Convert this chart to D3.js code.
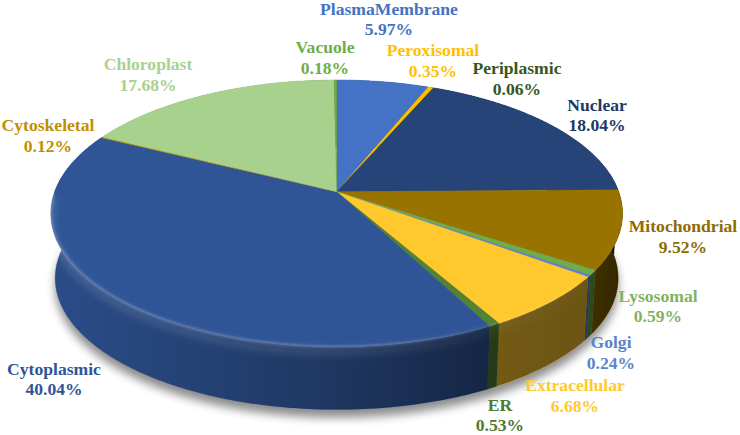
<!DOCTYPE html>
<html>
<head>
<meta charset="utf-8">
<script src="https://cdn.jsdelivr.net/npm/d3@7"></script>
<style>
  html, body { margin: 0; padding: 0; background: #fff; }
  svg { display: block; }
  text { font-family: "Liberation Serif", serif; font-weight: bold; font-size: 17.6px; text-anchor: middle; }
</style>
</head>
<body>
<div id="pie_chart"></div>
<script>
// values, clockwise from 12 o'clock
let categories = ["PlasmaMembrane", "Peroxisomal", "Periplasmic", "Nuclear", "Mitochondrial", "Lysosomal",
  "Golgi", "Extracellular", "ER", "Cytoplasmic", "Cytoskeletal", "Chloroplast", "Vacuole"];
let percents = [5.97, 0.35, 0.06, 18.04, 9.52, 0.59, 0.24, 6.68, 0.53, 40.04, 0.12, 17.68, 0.18];
let sliceColors = ["#4472c4", "#ffc000", "#375623", "#264478", "#997300", "#70ad47",
  "#5b84c8", "#ffc92e", "#548235", "#2f5597", "#bf8f00", "#a9d18e", "#70ad47"];
let labelColors = ["#4472c4", "#ffc000", "#375623", "#203864", "#8f6c00", "#7fb35f",
  "#5b84c8", "#ffc92e", "#4f7a32", "#2f5597", "#bf8f00", "#a9d18e", "#70ad47"];

// label centre x and the two baselines, same order as categories
let labelX = [389, 433, 517, 597, 683, 658, 611, 575, 500, 54, 48, 148, 325];
let labelY = [15, 56, 74, 111, 232, 302, 348, 391, 411, 375, 131, 70, 53];
let labelY2 = [35, 77, 95, 131, 253, 322, 369, 412, 431, 395, 152, 91, 74];

let width = 740;
let height = 435;

// tilted disc: perspective mapping of the unit circle, k shrinks the far side
let apex = { x: 336.7, y: 191.7 };
let radiusX = 282;
let radiusY = 129.9;
let k = 0.163;
let depth = 65;
let bottomScale = 0.985;
let tau = 2 * Math.PI;

// the original's perspective also turns the slices a little clockwise away from 12 o'clock
let twist = 1.2 * Math.PI / 180;
let twistSpan = 60 * Math.PI / 180;

function rim(angle, scale, dy) {
  let a = angle + twist * Math.min(1, angle / twistSpan, (tau - angle) / twistSpan);
  let u = Math.sin(a);
  let v = Math.cos(a);
  let w = 1 + k * v;
  return [apex.x + scale * radiusX * u / w, apex.y + dy - scale * radiusY * v / w];
}

function samples(a0, a1) {
  let n = Math.max(2, Math.ceil((a1 - a0) / 0.01));
  return d3.range(n + 1).map(i => a0 + (a1 - a0) * i / n);
}

let line = d3.line();
let topEdge = (a0, a1) => samples(a0, a1).map(a => rim(a, 1, 0));
let bottomEdge = (a0, a1) => samples(a0, a1).map(a => rim(a, bottomScale, depth));

let arcs = d3.pie().sort(null).value(d => d)(percents);

let svg = d3.select("#pie_chart").append("svg")
  .attr("width", width)
  .attr("height", height);

let defs = svg.append("defs");
function blur(id, amount) {
  defs.append("filter").attr("id", id)
    .attr("x", "-10%").attr("y", "-10%").attr("width", "120%").attr("height", "130%")
    .append("feGaussianBlur").attr("stdDeviation", amount);
}
blur("soft", 5);
blur("wide", 3);
blur("glow", 1.2);

function gradient(id, color, stops) {
  let g = defs.append("linearGradient").attr("id", id)
    .attr("gradientUnits", "userSpaceOnUse")
    .attr("x1", 50).attr("x2", 625).attr("y1", 0).attr("y2", 0);
  stops.forEach(s => {
    g.append("stop").attr("offset", s[0]).attr("stop-color", color).attr("stop-opacity", s[1]);
  });
}
gradient("sideShade", "#000", [[0, 0.1], [0.2, 0.2], [0.45, 0.33], [0.76, 0.55], [0.94, 0.58], [1, 0.68]]);
gradient("bevelWide", "#fff", [[0, 0.12], [0.5, 0.1], [0.78, 0.04], [1, 0]]);
gradient("bevelThin", "#fff", [[0, 0.22], [0.6, 0.2], [0.8, 0.06], [1, 0]]);

// soft shadow under the disc
svg.append("path")
  .attr("d", line(bottomEdge(0, tau)) + "Z")
  .attr("transform", "translate(0,8)")
  .attr("fill", "#000")
  .attr("opacity", 0.45)
  .attr("filter", "url(#soft)");

// side wall
let sides = svg.append("g");
let sidePath = d => line(topEdge(d.startAngle, d.endAngle)
  .concat(bottomEdge(d.startAngle, d.endAngle).reverse())) + "Z";

sides.selectAll("path.base")
  .data(arcs)
  .enter().append("path")
  .attr("class", "base")
  .attr("d", sidePath)
  .attr("fill", (d, i) => sliceColors[i])
  .attr("stroke", (d, i) => sliceColors[i])
  .attr("stroke-width", 0.3);

sides.selectAll("path.shade")
  .data(arcs)
  .enter().append("path")
  .attr("class", "shade")
  .attr("d", sidePath)
  .attr("fill", "url(#sideShade)");

// top face
svg.append("g").selectAll("path")
  .data(arcs)
  .enter().append("path")
  .attr("d", d => line([[apex.x, apex.y]].concat(topEdge(d.startAngle, d.endAngle))) + "Z")
  .attr("fill", (d, i) => sliceColors[i])
  .attr("stroke", (d, i) => sliceColors[i])
  .attr("stroke-width", 0.3);

// bevel highlight where the face rolls over into the wall
let bevelStart = 100 * Math.PI / 180;
let bevelEnd = 268 * Math.PI / 180;
let bevelArc = dy => line(samples(bevelStart, bevelEnd).map(a => rim(a, 1, dy)));
svg.append("path")
  .attr("d", bevelArc(5))
  .attr("fill", "none")
  .attr("stroke", "url(#bevelWide)")
  .attr("stroke-width", 8)
  .attr("filter", "url(#wide)");
svg.append("path")
  .attr("d", bevelArc(0))
  .attr("fill", "none")
  .attr("stroke", "url(#bevelThin)")
  .attr("stroke-width", 2.5)
  .attr("filter", "url(#glow)");

// labels
let labels = svg.append("g").selectAll("text")
  .data(categories)
  .enter().append("text")
  .attr("fill", (d, i) => labelColors[i]);

labels.append("tspan")
  .attr("x", (d, i) => labelX[i])
  .attr("y", (d, i) => labelY[i])
  .text(d => d);

labels.append("tspan")
  .attr("x", (d, i) => labelX[i])
  .attr("y", (d, i) => labelY2[i])
  .text((d, i) => d3.format(".2f")(percents[i]) + "%");
</script>
</body>
</html>
